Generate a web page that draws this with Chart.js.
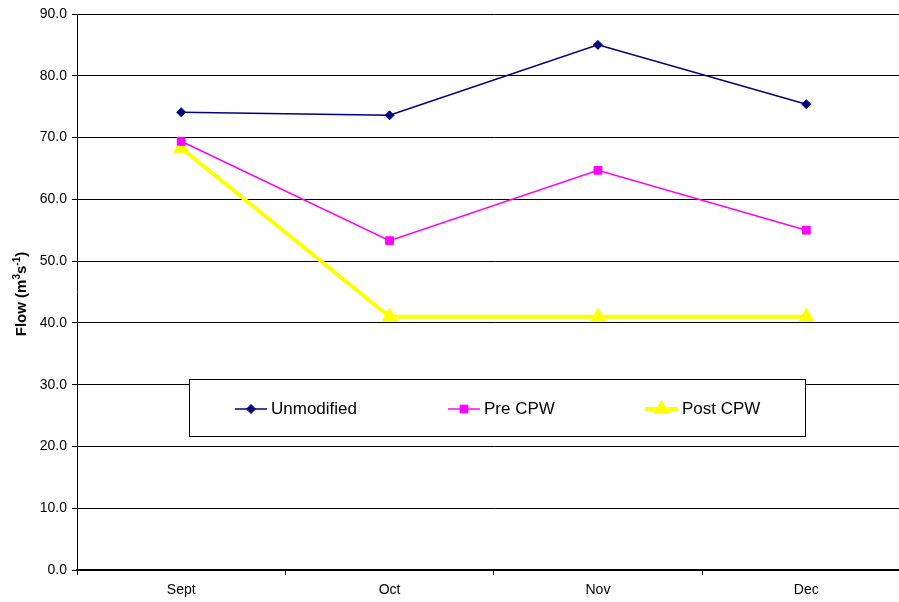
<!DOCTYPE html>
<html>
<head>
<meta charset="utf-8">
<script src="https://cdn.jsdelivr.net/npm/chart.js@4/dist/chart.umd.min.js"></script>
<style>
html,body{margin:0;padding:0;overflow:hidden;background:#fff;}
#wrap{position:relative;width:920px;height:602px;}
canvas{display:block;}
</style>
</head>
<body>
<div id="wrap"><canvas id="c" width="920" height="602" style="width:920px;height:602px"></canvas></div>
<script>
const months = ["Sept", "Oct", "Nov", "Dec"];
const unmodified = [74.1, 73.6, 85.0, 75.4];
const preCPW = [69.4, 53.3, 64.7, 55.0];
const postCPW = [68.3, 41.0, 41.0, 41.0];
const yTicks = [0, 10, 20, 30, 40, 50, 60, 70, 80, 90];
const seriesNames = ["Unmodified", "Pre CPW", "Post CPW"];

const FONT = "'Liberation Sans', Arial, sans-serif";

const yTitlePlugin = {
  id: 'yTitle',
  afterDraw(chart) {
    const ctx = chart.ctx;
    const ca = chart.chartArea;
    ctx.save();
    ctx.translate(22, (ca.top + ca.bottom) / 2 + 2);
    ctx.rotate(-Math.PI / 2);
    ctx.fillStyle = '#000';
    ctx.textBaseline = 'middle';
    const parts = [
      {t: 'Flow (m', s: 15, dy: 0},
      {t: '3', s: 10, dy: -5},
      {t: 's', s: 15, dy: 0},
      {t: '-1', s: 10, dy: -5},
      {t: ')', s: 15, dy: 0}
    ];
    let total = 0;
    parts.forEach(p => { ctx.font = 'bold ' + p.s + 'px ' + FONT; p.w = ctx.measureText(p.t).width; total += p.w; });
    let x = -total / 2;
    parts.forEach(p => { ctx.font = 'bold ' + p.s + 'px ' + FONT; ctx.fillText(p.t, x, p.dy); x += p.w; });
    ctx.restore();
  }
};

const boxLegendPlugin = {
  id: 'boxLegend',
  afterDraw(chart) {
    const ctx = chart.ctx;
    ctx.save();
    const bx = 189.5, by = 379.5, bw = 616, bh = 57;
    ctx.fillStyle = '#fff';
    ctx.fillRect(bx, by, bw, bh);
    ctx.strokeStyle = '#000';
    ctx.lineWidth = 1;
    ctx.strokeRect(bx, by, bw, bh);
    const items = [
      {x0: 235, x1: 267, tx: 271},
      {x0: 448, x1: 480, tx: 484},
      {x0: 645, x1: 678, tx: 682}
    ];
    const cy = 409;
    chart.data.datasets.forEach((ds, i) => {
      const it = items[i];
      ctx.strokeStyle = ds.borderColor;
      ctx.lineWidth = ds.borderWidth;
      ctx.beginPath();
      ctx.moveTo(it.x0, cy);
      ctx.lineTo(it.x1, cy);
      ctx.stroke();
      ctx.fillStyle = ds.pointBackgroundColor;
      ctx.strokeStyle = ds.pointBorderColor;
      ctx.lineWidth = 1;
      Chart.helpers.drawPoint(ctx, {
        pointStyle: ds.pointStyle,
        radius: ds.pointRadius,
        rotation: 0,
        borderWidth: 1
      }, (it.x0 + it.x1) / 2, cy);
      ctx.fillStyle = '#000';
      ctx.font = '17px ' + FONT;
      ctx.textBaseline = 'middle';
      ctx.textAlign = 'left';
      ctx.fillText(ds.label, it.tx, cy);
    });
    ctx.restore();
  }
};

new Chart(document.getElementById('c'), {
  type: 'line',
  data: {
    labels: months,
    datasets: [
      {label: seriesNames[0], data: unmodified, borderColor: '#000080', backgroundColor: '#000080',
       pointBackgroundColor: '#000080', pointBorderColor: '#000080', borderWidth: 1.5,
       pointStyle: 'rectRot', pointRadius: 4.5, pointBorderWidth: 1, tension: 0},
      {label: seriesNames[1], data: preCPW, borderColor: '#FF00FF', backgroundColor: '#FF00FF',
       pointBackgroundColor: '#FF00FF', pointBorderColor: '#FF00FF', borderWidth: 1.5,
       pointStyle: 'rect', pointRadius: 5.5, pointBorderWidth: 1, tension: 0},
      {label: seriesNames[2], data: postCPW, borderColor: '#FFFF00', backgroundColor: '#FFFF00',
       pointBackgroundColor: '#FFFF00', pointBorderColor: '#FFFF00', borderWidth: 4,
       pointStyle: 'triangle', pointRadius: 8.5, pointBorderWidth: 1, tension: 0}
    ]
  },
  options: {
    responsive: false,
    animation: false,
    devicePixelRatio: 1,
    layout: {padding: {left: 0, right: 0, top: 14, bottom: 0}},
    plugins: {legend: {display: false}, tooltip: {enabled: false}, title: {display: false}},
    scales: {
      x: {
        offset: true,
        grid: {offset: true, drawOnChartArea: false, drawTicks: true, tickLength: 5, color: '#000', lineWidth: 1},
        border: {display: true, color: '#000', width: 2},
        ticks: {color: '#000', font: {family: FONT, size: 14}, padding: 7, maxRotation: 0},
        afterFit(s) { s.height = 32; }
      },
      y: {
        min: 0, max: 90,
        afterBuildTicks(s) { s.ticks = yTicks.map(v => ({value: v})); },
        grid: {color: '#000', lineWidth: 1, drawTicks: true, tickLength: 5},
        border: {display: true, color: '#000', width: 1},
        ticks: {color: '#000', font: {family: FONT, size: 14}, padding: 5,
                callback: v => Number(v).toFixed(1)},
        afterFit(s) { s.width = 77; }
      }
    }
  },
  plugins: [yTitlePlugin, boxLegendPlugin]
});
</script>
</body>
</html>
